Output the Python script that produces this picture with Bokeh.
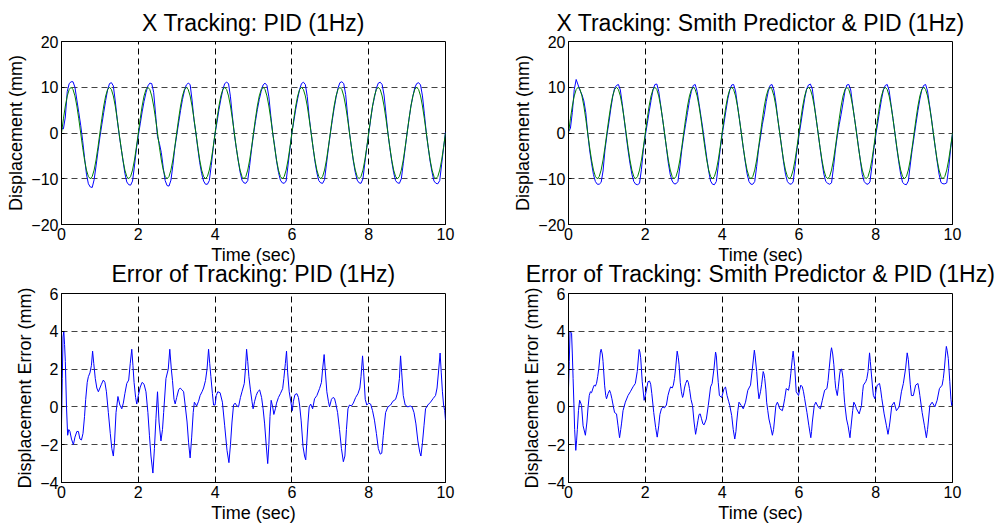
from bokeh.plotting import figure
from bokeh.layouts import column, row
from bokeh.models import Range1d, FixedTicker
from bokeh.embed import file_html
from bokeh.resources import INLINE

# ---------------- data ----------------
# sampling instants for the tracking plots (0 .. 10 s, every 0.05 s)
t_track = [round(i * 0.05, 2) for i in range(201)]

# desired trajectory (green), mm
ref_x = [
    0.0, 3.1, 5.9, 8.1, 9.5, 10.0, 9.5, 8.1, 5.9, 3.1, 0.0, -3.1, -5.9, -8.1, -9.5, -10.0, -9.5, -8.1, -5.9, -3.1,
    0.0, 3.1, 5.9, 8.1, 9.5, 10.0, 9.5, 8.1, 5.9, 3.1, 0.0, -3.1, -5.9, -8.1, -9.5, -10.0, -9.5, -8.1, -5.9, -3.1,
    0.0, 3.1, 5.9, 8.1, 9.5, 10.0, 9.5, 8.1, 5.9, 3.1, 0.0, -3.1, -5.9, -8.1, -9.5, -10.0, -9.5, -8.1, -5.9, -3.1,
    0.0, 3.1, 5.9, 8.1, 9.5, 10.0, 9.5, 8.1, 5.9, 3.1, 0.0, -3.1, -5.9, -8.1, -9.5, -10.0, -9.5, -8.1, -5.9, -3.1,
    0.0, 3.1, 5.9, 8.1, 9.5, 10.0, 9.5, 8.1, 5.9, 3.1, 0.0, -3.1, -5.9, -8.1, -9.5, -10.0, -9.5, -8.1, -5.9, -3.1,
    0.0, 3.1, 5.9, 8.1, 9.5, 10.0, 9.5, 8.1, 5.9, 3.1, 0.0, -3.1, -5.9, -8.1, -9.5, -10.0, -9.5, -8.1, -5.9, -3.1,
    0.0, 3.1, 5.9, 8.1, 9.5, 10.0, 9.5, 8.1, 5.9, 3.1, 0.0, -3.1, -5.9, -8.1, -9.5, -10.0, -9.5, -8.1, -5.9, -3.1,
    0.0, 3.1, 5.9, 8.1, 9.5, 10.0, 9.5, 8.1, 5.9, 3.1, 0.0, -3.1, -5.9, -8.1, -9.5, -10.0, -9.5, -8.1, -5.9, -3.1,
    0.0, 3.1, 5.9, 8.1, 9.5, 10.0, 9.5, 8.1, 5.9, 3.1, 0.0, -3.1, -5.9, -8.1, -9.5, -10.0, -9.5, -8.1, -5.9, -3.1,
    0.0, 3.1, 5.9, 8.1, 9.5, 10.0, 9.5, 8.1, 5.9, 3.1, 0.0, -3.1, -5.9, -8.1, -9.5, -10.0, -9.5, -8.1, -5.9, -3.1,
    0.0,
]

# measured position with PID (blue), mm
pid_x = [
    1.0, 0.9, 3.5, 9.1, 10.8, 11.2, 11.2, 10.0, 7.2, 4.5, 1.7, -1.6, -5.4, -9.0, -11.1, -11.8, -11.9, -10.2, -7.2, -4.0,
    -0.9, 1.8, 4.5, 7.1, 9.4, 10.8, 11.0, 10.3, 7.0, 3.0, -0.3, -3.1, -5.9, -8.8, -10.7, -11.3, -11.4, -10.5, -7.2, -3.5,
    -0.6, 2.0, 4.6, 6.9, 8.8, 10.3, 10.9, 10.8, 8.9, 4.1, -0.8, -2.3, -4.3, -7.6, -10.4, -11.5, -11.6, -10.3, -7.1, -3.3,
    -0.5, 2.2, 4.9, 7.3, 9.2, 10.5, 10.9, 10.6, 7.2, 2.9, 0.0, -3.4, -6.5, -8.9, -10.5, -11.2, -11.2, -10.4, -7.1, -3.3,
    -0.1, 2.4, 5.1, 7.4, 9.4, 10.8, 11.1, 10.8, 7.9, 3.7, -0.2, -3.2, -5.9, -8.5, -10.3, -10.9, -11.0, -10.4, -7.1, -3.5,
    -0.3, 2.5, 5.1, 7.3, 9.1, 10.5, 10.9, 10.4, 7.9, 3.8, 0.0, -2.8, -6.1, -8.6, -10.3, -10.9, -11.0, -10.5, -7.0, -3.4,
    0.0, 2.6, 5.2, 7.5, 9.5, 10.8, 11.1, 10.6, 8.0, 3.5, 0.1, -3.1, -6.2, -8.7, -10.4, -10.9, -11.0, -10.2, -6.8, -3.3,
    -0.2, 2.7, 5.4, 7.8, 9.8, 11.0, 11.2, 10.8, 8.4, 3.9, 0.0, -3.1, -6.1, -8.6, -10.3, -10.9, -11.0, -10.0, -6.5, -3.2,
    -0.2, 2.9, 5.8, 7.8, 9.8, 10.9, 11.1, 10.6, 8.3, 4.2, 0.0, -3.2, -6.2, -8.7, -10.4, -10.9, -11.0, -10.0, -6.7, -3.3,
    0.0, 3.0, 5.9, 8.0, 9.9, 10.8, 11.0, 10.5, 8.1, 4.2, 0.0, -3.2, -6.2, -8.6, -10.5, -11.0, -11.1, -10.4, -6.8, -3.2,
    0.2,
]

# measured position with Smith predictor & PID (blue), mm
smith_x = [
    0.3, 1.0, 4.5, 9.5, 11.7, 10.5, 9.3, 8.4, 7.0, 4.5, 0.0, -3.7, -6.6, -9.1, -10.6, -11.2, -11.2, -10.8, -8.3, -3.7,
    -0.5, 2.2, 5.2, 7.9, 9.8, 10.4, 10.6, 9.4, 6.4, 3.0, -0.4, -3.7, -6.6, -9.0, -10.6, -11.2, -11.3, -11.0, -7.9, -3.5,
    -0.6, 2.0, 4.6, 7.1, 9.4, 10.6, 10.7, 9.1, 6.1, 3.1, 0.0, -3.2, -6.6, -9.1, -10.5, -11.1, -11.1, -10.6, -7.4, -3.7,
    -0.7, 1.9, 4.5, 7.1, 9.1, 10.4, 10.6, 9.1, 6.4, 3.6, 0.8, -2.3, -5.4, -8.3, -10.5, -11.2, -11.3, -10.6, -7.2, -3.6,
    -0.5, 2.2, 4.9, 7.5, 9.4, 10.5, 10.6, 9.2, 6.1, 3.1, 0.0, -3.2, -6.1, -8.9, -10.6, -11.2, -11.2, -10.6, -7.3, -3.5,
    -0.9, 1.9, 4.1, 6.9, 9.0, 10.4, 10.6, 9.3, 6.7, 3.1, 0.1, -3.0, -6.3, -9.0, -10.6, -11.1, -11.2, -10.7, -7.3, -3.6,
    -0.7, 2.0, 4.8, 7.5, 9.6, 10.5, 10.7, 9.6, 6.3, 3.1, 0.0, -3.2, -6.3, -9.0, -10.6, -11.0, -11.2, -10.9, -7.6, -3.7,
    -0.6, 1.8, 4.1, 6.6, 9.2, 10.5, 10.6, 9.4, 6.1, 3.1, 0.2, -2.9, -6.0, -9.1, -10.6, -11.1, -11.2, -10.7, -7.3, -3.6,
    -0.6, 2.0, 4.7, 7.3, 9.4, 10.4, 10.6, 9.3, 6.2, 3.2, 0.0, -3.3, -6.3, -9.0, -10.8, -11.2, -11.3, -10.5, -7.0, -3.6,
    -0.8, 2.1, 4.9, 7.4, 9.4, 10.4, 10.6, 9.2, 6.2, 3.3, 0.0, -3.1, -6.2, -9.0, -10.8, -11.1, -11.1, -10.9, -7.8, -3.5,
    -0.2,
]

# tracking error with PID: time (s) and error (mm)
pid_err_t = [
    0.00, 0.02, 0.04, 0.06, 0.08, 0.10, 0.13, 0.16, 0.19, 0.22, 0.26, 0.31, 0.35, 0.40, 0.44, 0.48, 0.52, 0.56,
    0.60, 0.63, 0.67, 0.70, 0.74, 0.78, 0.81, 0.84, 0.88, 0.92, 0.96, 1.00, 1.04, 1.09, 1.13, 1.17, 1.22, 1.27,
    1.31, 1.35, 1.38, 1.42, 1.47, 1.52, 1.57, 1.61, 1.65, 1.70, 1.75, 1.79, 1.83, 1.86, 1.89, 1.93, 1.96, 2.00,
    2.05, 2.10, 2.15, 2.20, 2.25, 2.29, 2.33, 2.38, 2.42, 2.46, 2.50, 2.54, 2.59, 2.63, 2.66, 2.72, 2.78, 2.82,
    2.86, 2.89, 2.93, 2.96, 3.00, 3.05, 3.09, 3.14, 3.18, 3.22, 3.27, 3.31, 3.35, 3.39, 3.43, 3.46, 3.52, 3.57,
    3.61, 3.66, 3.70, 3.75, 3.79, 3.83, 3.86, 3.89, 3.93, 3.96, 4.00, 4.03, 4.07, 4.13, 4.19, 4.25, 4.31, 4.36,
    4.40, 4.44, 4.48, 4.52, 4.57, 4.61, 4.66, 4.70, 4.76, 4.79, 4.82, 4.85, 4.88, 4.92, 4.96, 4.99, 5.03, 5.07,
    5.11, 5.16, 5.21, 5.25, 5.29, 5.33, 5.37, 5.40, 5.43, 5.46, 5.50, 5.53, 5.57, 5.60, 5.65, 5.70, 5.76, 5.79,
    5.83, 5.86, 5.89, 5.93, 5.97, 6.01, 6.04, 6.08, 6.13, 6.17, 6.20, 6.24, 6.29, 6.33, 6.36, 6.39, 6.42, 6.45,
    6.49, 6.54, 6.59, 6.65, 6.72, 6.77, 6.80, 6.84, 6.87, 6.91, 6.95, 6.98, 7.03, 7.07, 7.11, 7.14, 7.19, 7.24,
    7.29, 7.34, 7.38, 7.42, 7.46, 7.50, 7.55, 7.60, 7.66, 7.72, 7.77, 7.80, 7.84, 7.87, 7.91, 7.95, 8.00, 8.05,
    8.10, 8.15, 8.20, 8.25, 8.30, 8.34, 8.38, 8.44, 8.50, 8.57, 8.63, 8.70, 8.76, 8.80, 8.83, 8.86, 8.90, 8.95,
    9.02, 9.08, 9.13, 9.18, 9.23, 9.28, 9.33, 9.36, 9.40, 9.44, 9.48, 9.54, 9.61, 9.68, 9.74, 9.78, 9.82, 9.86,
    9.89, 9.92, 9.95, 9.98, 10.00,
]
pid_err = [
    -0.9, 1.5, 3.7, 4.0, 3.3, 2.4, 0.0, -1.5, -1.2, -1.3, -1.7, -2.0, -1.6, -1.3, -1.3, -1.7, -1.75, -1.4,
    -0.5, 0.4, 1.3, 1.6, 1.8, 2.2, 2.95, 2.3, 1.5, 1.0, 0.8, 1.0, 1.2, 1.42, 1.3, 0.8, -0.3, -1.4,
    -2.2, -2.6, -1.9, -0.3, 0.55, 0.1, -0.1, 0.2, 0.7, 1.24, 1.42, 2.3, 3.05, 2.2, 1.3, 0.5, 0.15, 0.6,
    1.05, 1.3, 1.2, 0.8, -0.3, -1.5, -2.6, -3.5, -2.2, -0.6, 0.8, -0.8, -1.8, -1.2, -0.3, 1.5, 2.0, 3.05,
    2.0, 1.4, 0.4, 0.16, 0.5, 0.9, 1.0, 0.9, 0.8, 0.1, -0.8, -1.9, -2.7, -1.6, -0.3, 0.25, 0.05, 0.3,
    0.6, 0.8, 1.0, 1.4, 2.0, 3.05, 2.3, 1.6, 0.7, 0.1, 0.1, 0.6, 0.8, 0.75, 0.25, -1.0, -2.3, -2.95,
    -2.0, -0.8, 0.1, 0.2, 0.05, 0.0, 0.5, 0.8, 1.24, 2.0, 3.05, 2.4, 1.6, 0.9, 0.3, -0.1, 0.3, 0.6,
    0.8, 0.9, 0.5, -0.1, -0.9, -2.0, -3.0, -2.0, -0.5, 0.35, 0.0, -0.4, -0.1, 0.2, 0.5, 0.7, 0.97, 1.5,
    2.3, 2.95, 1.8, 0.8, 0.3, -0.2, 0.3, 0.65, 0.7, 0.5, 0.1, -0.7, -2.1, -2.6, -2.8, -1.8, -0.8, 0.0,
    0.15, -0.1, 0.43, 0.6, 0.97, 1.3, 2.0, 2.77, 1.9, 0.8, 0.3, 0.0, 0.4, 0.5, 0.45, 0.2, -0.3, -1.2,
    -2.2, -2.9, -2.6, -1.2, -0.1, 0.1, 0.05, 0.2, 0.5, 0.7, 1.0, 1.6, 2.7, 1.8, 0.4, 0.1, 0.2, 0.15,
    -0.2, -0.7, -1.4, -2.2, -2.5, -2.45, -1.5, -0.3, 0.0, 0.1, 0.3, 0.4, 0.8, 1.5, 2.7, 1.8, 0.6, 0.1,
    0.0, 0.05, 0.0, -0.3, -0.9, -1.8, -2.4, -2.6, -1.9, -1.0, -0.1, 0.1, 0.25, 0.45, 0.6, 1.0, 1.9, 2.85,
    1.8, 0.8, 0.1, -0.2, -0.7,
]

# tracking error with Smith predictor & PID: time (s) and error (mm)
smith_err_t = [
    0.00, 0.02, 0.04, 0.08, 0.10, 0.12, 0.14, 0.16, 0.19, 0.21, 0.23, 0.26, 0.29, 0.32, 0.34, 0.38, 0.44, 0.48,
    0.51, 0.54, 0.57, 0.60, 0.64, 0.67, 0.70, 0.73, 0.76, 0.79, 0.83, 0.85, 0.88, 0.90, 0.94, 0.97, 0.99, 1.03,
    1.07, 1.10, 1.13, 1.17, 1.20, 1.25, 1.29, 1.33, 1.36, 1.38, 1.42, 1.48, 1.55, 1.61, 1.68, 1.74, 1.79, 1.84,
    1.86, 1.88, 1.92, 1.97, 2.02, 2.07, 2.11, 2.14, 2.17, 2.22, 2.27, 2.31, 2.35, 2.38, 2.42, 2.46, 2.50, 2.55,
    2.59, 2.63, 2.66, 2.70, 2.73, 2.76, 2.79, 2.83, 2.86, 2.88, 2.91, 2.94, 2.97, 2.99, 3.02, 3.05, 3.09, 3.12,
    3.15, 3.19, 3.23, 3.27, 3.31, 3.34, 3.37, 3.40, 3.43, 3.46, 3.50, 3.53, 3.56, 3.59, 3.64, 3.70, 3.74, 3.79,
    3.83, 3.85, 3.87, 3.90, 3.93, 3.99, 4.05, 4.09, 4.13, 4.17, 4.20, 4.25, 4.29, 4.33, 4.36, 4.38, 4.41, 4.44,
    4.50, 4.55, 4.61, 4.67, 4.74, 4.79, 4.84, 4.86, 4.90, 4.93, 4.96, 5.00, 5.03, 5.07, 5.09, 5.11, 5.14, 5.16,
    5.19, 5.22, 5.26, 5.31, 5.34, 5.36, 5.40, 5.44, 5.47, 5.50, 5.57, 5.60, 5.63, 5.67, 5.73, 5.76, 5.79, 5.83,
    5.85, 5.89, 5.93, 5.99, 6.02, 6.05, 6.09, 6.12, 6.15, 6.21, 6.26, 6.31, 6.33, 6.35, 6.40, 6.44, 6.50, 6.56,
    6.61, 6.67, 6.73, 6.76, 6.79, 6.83, 6.85, 6.88, 6.91, 6.94, 6.96, 7.00, 7.03, 7.06, 7.08, 7.11, 7.13, 7.15,
    7.17, 7.19, 7.24, 7.28, 7.33, 7.35, 7.37, 7.40, 7.43, 7.47, 7.50, 7.57, 7.63, 7.66, 7.68, 7.74, 7.77, 7.80,
    7.84, 7.86, 7.89, 7.92, 7.94, 7.98, 8.01, 8.04, 8.10, 8.13, 8.16, 8.22, 8.28, 8.32, 8.35, 8.37, 8.42, 8.48,
    8.54, 8.61, 8.67, 8.72, 8.78, 8.82, 8.85, 8.87, 8.90, 8.93, 8.98, 9.04, 9.10, 9.13, 9.15, 9.21, 9.27, 9.32,
    9.35, 9.37, 9.41, 9.47, 9.54, 9.60, 9.66, 9.73, 9.76, 9.79, 9.82, 9.84, 9.86, 9.89, 9.93, 9.96, 9.98, 10.00,
]
smith_err = [
    1.0, 2.4, 4.0, 3.9, 2.8, 1.5, 0.2, -1.2, -2.3, -1.8, -1.2, -0.2, 0.35, 0.2, 0.07, -1.0, -1.5, -0.8,
    0.0, 0.6, 0.8, 0.75, 1.0, 1.15, 1.1, 1.25, 1.6, 2.05, 2.9, 3.05, 2.8, 2.4, 1.15, 0.6, 0.43, 0.7,
    0.88, 0.7, 0.43, 0.0, -0.3, -0.37, -1.0, -1.63, -1.2, -0.9, -0.2, 0.25, 0.6, 0.8, 1.06, 1.24, 1.87, 3.04,
    2.9, 2.6, 1.33, 0.35, 0.8, 1.33, 1.37, 1.2, 0.7, -0.3, -1.1, -1.6, -1.0, -0.4, -0.1, 0.0, -0.05, 0.1,
    0.6, 0.9, 1.06, 1.0, 1.15, 1.5, 2.05, 2.95, 2.6, 2.23, 1.3, 0.8, 0.5, 0.6, 1.0, 1.24, 1.42, 1.3,
    0.97, 0.4, 0.07, -0.8, -1.45, -1.1, -0.73, -0.4, -0.37, -0.6, -0.9, -0.95, -0.8, -0.64, 0.07, 1.06, 1.24, 2.05,
    2.9, 2.7, 2.05, 1.3, 0.6, 0.5, 0.97, 1.05, 0.6, 0.3, 0.07, -0.46, -1.2, -1.7, -1.3, -0.8, -0.2, 0.25,
    0.07, -0.1, 0.25, 0.88, 1.15, 2.05, 3.0, 2.7, 1.87, 1.0, 0.43, 0.8, 1.2, 1.87, 1.75, 1.5, 0.9, 0.25,
    -0.2, -0.64, -1.0, -1.5, -1.2, -0.8, 0.07, 0.25, 0.1, -0.1, -0.2, 0.1, 0.43, 0.97, 0.88, 1.2, 1.78, 2.6,
    2.95, 2.14, 0.8, 0.6, 0.9, 1.15, 1.06, 0.8, 0.43, -0.3, -1.0, -1.63, -1.3, -0.8, 0.07, 0.25, 0.0, -0.1,
    0.35, 0.88, 0.97, 1.4, 2.05, 2.9, 3.13, 2.8, 2.23, 1.4, 0.97, 0.6, 1.1, 1.69, 1.95, 2.0, 1.8, 1.5,
    0.8, 0.25, -0.64, -1.0, -1.63, -1.2, -0.8, -0.2, 0.25, 0.1, -0.1, -0.37, 0.07, 0.8, 1.15, 1.33, 1.5, 1.87,
    2.86, 2.4, 1.69, 1.0, 0.6, 0.43, 0.9, 1.15, 1.24, 0.9, 0.43, -0.37, -1.0, -1.45, -1.1, -0.8, 0.07, 0.25,
    -0.2, 0.0, 0.8, 1.24, 2.05, 2.86, 2.5, 1.96, 1.2, 0.6, 0.6, 1.15, 1.24, 0.9, 0.6, -0.3, -1.0, -1.63,
    -1.2, -0.8, 0.07, 0.25, 0.0, 0.35, 0.97, 1.15, 1.5, 2.05, 2.8, 3.2, 3.0, 2.57, 1.33, 0.4, 0.07, 0.25,
]

x_ticks = [0, 2, 4, 6, 8, 10]
track_ticks = [-20, -10, 0, 10, 20]
err_ticks = [-4, -2, 0, 2, 4, 6]

titles = [
    "X Tracking: PID (1Hz)",
    "X Tracking: Smith Predictor & PID (1Hz)",
    "Error of Tracking: PID (1Hz)",
    "Error of Tracking: Smith Predictor & PID (1Hz)",
]

FONT = "Liberation Sans"
BLUE = "#0000ff"
GREEN = "#008000"


def make_fig(title, yr, yticks, ylabel, width, height, bl, br, bt, bb, title_standoff):
    p = figure(width=width, height=height, output_backend="svg", toolbar_location=None,
               x_range=Range1d(0, 10), y_range=Range1d(*yr),
               min_border_left=bl, min_border_right=br, min_border_top=bt, min_border_bottom=bb,
               title=title)
    p.title.text_font = FONT
    p.title.text_font_size = "23px"
    p.title.text_font_style = "normal"
    p.title.text_color = "black"
    p.title.align = "center"
    p.title.standoff = title_standoff
    p.xaxis.ticker = FixedTicker(ticks=x_ticks)
    p.yaxis.ticker = FixedTicker(ticks=yticks)
    p.xaxis.axis_label = "Time (sec)"
    p.yaxis.axis_label = ylabel
    for ax in (p.xaxis[0], p.yaxis[0]):
        ax.axis_label_text_font = FONT
        ax.axis_label_text_font_size = "18px"
        ax.axis_label_text_font_style = "normal"
        ax.axis_label_text_color = "black"
        ax.major_label_text_font = FONT
        ax.major_label_text_font_size = "16px"
        ax.major_label_text_color = "black"
        ax.axis_line_color = "black"
        ax.major_tick_line_color = "black"
        ax.major_tick_in = 3
        ax.major_tick_out = 0
        ax.minor_tick_line_color = None
        ax.major_label_standoff = 3
        ax.axis_label_standoff = 2
    p.outline_line_color = "black"
    p.outline_line_alpha = 1.0
    p.xgrid.grid_line_color = "black"
    p.xgrid.grid_line_dash = "6 4"
    p.ygrid.grid_line_color = "#444444"
    p.ygrid.grid_line_dash = "6 4"
    p.background_fill_color = "white"
    p.border_fill_color = None
    return p


W = 498
H_TOP = 270
OVERLAP = 19
H_BOT = 527 - H_TOP + OVERLAP

p1 = make_fig(titles[0], (-20, 20), track_ticks, "Displacement (mm)", W, H_TOP, 61, 53, 41, 46, 11)
p1.line(t_track, pid_x, line_color=BLUE, line_width=1)
p1.line(t_track, ref_x, line_color=GREEN, line_width=1)

p2 = make_fig(titles[1], (-20, 20), track_ticks, "Displacement (mm)", W, H_TOP, 70, 44, 41, 46, 11)
p2.line(t_track, smith_x, line_color=BLUE, line_width=1)
p2.line(t_track, ref_x, line_color=GREEN, line_width=1)

p3 = make_fig(titles[2], (-4, 6), err_ticks, "Displacement Error (mm)", W, H_BOT, 61, 53, 38, 45, 14)
p3.line(pid_err_t, pid_err, line_color=BLUE, line_width=1)

p4 = make_fig(titles[3], (-4, 6), err_ticks, "Displacement Error (mm)", W, H_BOT, 70, 44, 38, 45, 14)
p4.line(smith_err_t, smith_err, line_color=BLUE, line_width=1)

top_row = row(p1, p2)
bottom_row = row(p3, p4, margin=(-OVERLAP, 0, 0, 0))
layout = column(top_row, bottom_row)

open("out.html", "w").write(file_html(layout, INLINE))
